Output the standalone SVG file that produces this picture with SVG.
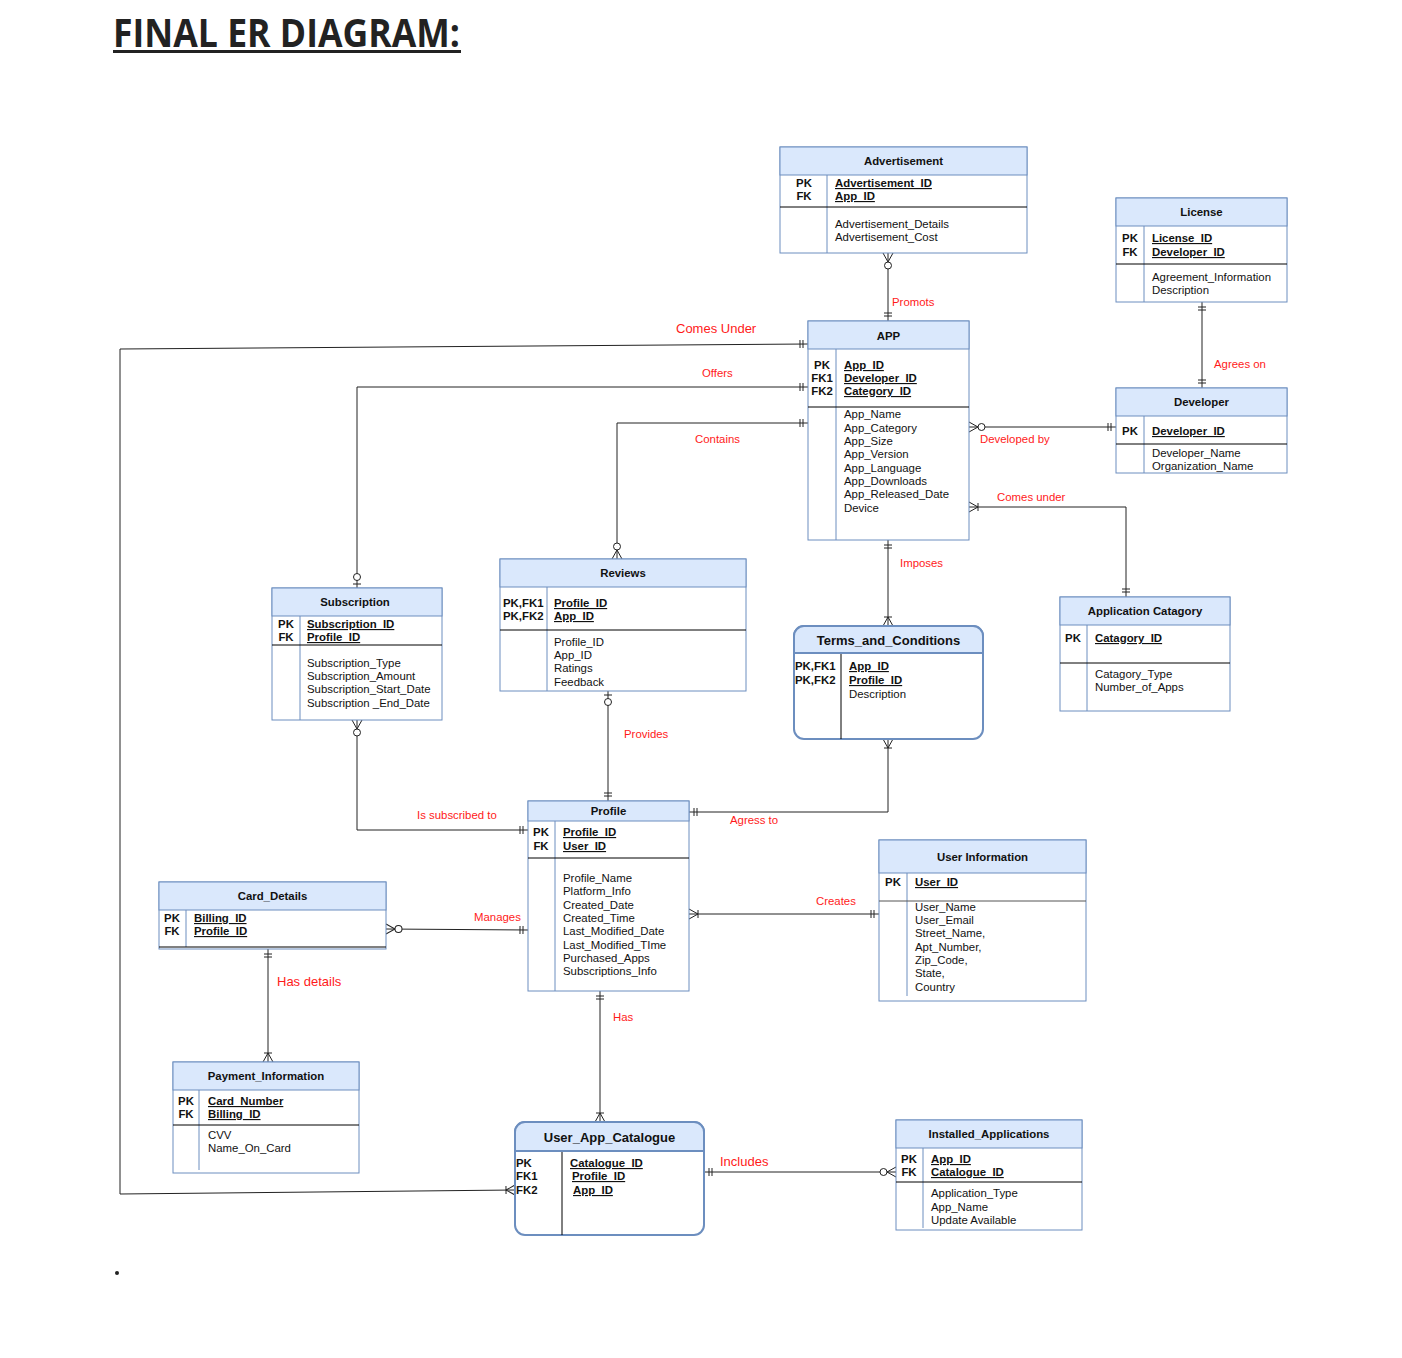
<svg xmlns="http://www.w3.org/2000/svg" width="1402" height="1358" viewBox="0 0 1402 1358">
<style>
.box{fill:#fff;stroke:#6c8ebf;stroke-width:1}
.hdr{fill:#dae8fc;stroke:#6c8ebf;stroke-width:1}
.rbox{fill:#fff;stroke:#6c8ebf;stroke-width:2}
.rhdr{fill:#dae8fc;stroke:#6c8ebf;stroke-width:2}
.dv{stroke:#6c8ebf;stroke-width:1}
.dk{stroke:#000;stroke-width:1}
.sep{stroke:#000;stroke-width:1}
text{font-family:"Liberation Sans",Arial,sans-serif;font-size:11.4px;fill:#111}
.k{font-weight:bold;text-anchor:middle}
.kl{font-weight:bold}
.u{font-weight:bold;text-decoration:underline}
.h{font-weight:bold;text-anchor:middle}
.h2{font-weight:bold;text-anchor:middle;font-size:13px}
.lbl{fill:#ff1a1a}
.lb2{fill:#ff1a1a;font-size:13px}
.conn{fill:none;stroke:#222;stroke-width:1}
.m{fill:none;stroke:#222;stroke-width:1}
.mc{fill:#fff;stroke:#222;stroke-width:1}
</style>
<defs>
<marker id="mandOne" viewBox="-20 -8 22 16" refX="0" refY="0" markerWidth="22" markerHeight="16" markerUnits="userSpaceOnUse" orient="auto-start-reverse" overflow="visible">
<path class="m" d="M-5,-4V4M-8,-4V4"/>
</marker>
<marker id="oneMany" viewBox="-20 -8 22 16" refX="0" refY="0" markerWidth="22" markerHeight="16" markerUnits="userSpaceOnUse" orient="auto-start-reverse" overflow="visible">
<path class="m" d="M0,-5L-9,0L0,5M-9,-4V4"/>
</marker>
<marker id="zeroMany" viewBox="-20 -8 22 16" refX="0" refY="0" markerWidth="22" markerHeight="16" markerUnits="userSpaceOnUse" orient="auto-start-reverse" overflow="visible">
<path class="m" d="M0,-5L-9,0L0,5"/>
<circle class="mc" cx="-12.5" cy="0" r="3.5"/>
</marker>
<marker id="zeroOne" viewBox="-20 -8 22 16" refX="0" refY="0" markerWidth="22" markerHeight="16" markerUnits="userSpaceOnUse" orient="auto-start-reverse" overflow="visible">
<path class="m" d="M-4,-4V4"/>
<circle class="mc" cx="-11" cy="0" r="3.5"/>
</marker>
</defs>
<rect width="1402" height="1358" fill="#fff"/>

<g id="title">
<text x="113" y="47" style="font-family:'Open Sans','Liberation Sans',sans-serif;font-size:39px;font-weight:bold;fill:#222" textLength="347" lengthAdjust="spacingAndGlyphs">FINAL ER DIAGRAM:</text>
<rect x="113" y="50" width="348" height="3" fill="#222"/>
</g>
<circle cx="117" cy="1273" r="2" fill="#222"/>

<g id="connectors">
<path class="conn" d="M888,253V321" marker-start="url(#zeroMany)" marker-end="url(#mandOne)"/>
<path class="conn" d="M1202,302V388" marker-start="url(#mandOne)" marker-end="url(#mandOne)"/>
<path class="conn" d="M969,427H1116" marker-start="url(#zeroMany)" marker-end="url(#mandOne)"/>
<path class="conn" d="M969,507H1126V597" marker-start="url(#oneMany)" marker-end="url(#mandOne)"/>
<path class="conn" d="M888,540V626" marker-start="url(#mandOne)" marker-end="url(#oneMany)"/>
<path class="conn" d="M808,344L120,349V1194L515,1190" marker-start="url(#mandOne)" marker-end="url(#oneMany)"/>
<path class="conn" d="M808,387H357V588" marker-start="url(#mandOne)" marker-end="url(#zeroOne)"/>
<path class="conn" d="M808,423H617V559" marker-start="url(#mandOne)" marker-end="url(#zeroMany)"/>
<path class="conn" d="M608,691V801" marker-start="url(#zeroOne)" marker-end="url(#mandOne)"/>
<path class="conn" d="M357,720V830H528" marker-start="url(#zeroMany)" marker-end="url(#mandOne)"/>
<path class="conn" d="M689,812H888V739" marker-start="url(#mandOne)" marker-end="url(#oneMany)"/>
<path class="conn" d="M689,914H879" marker-start="url(#oneMany)" marker-end="url(#mandOne)"/>
<path class="conn" d="M386,929L528,930" marker-start="url(#zeroMany)" marker-end="url(#mandOne)"/>
<path class="conn" d="M268,949V1062" marker-start="url(#mandOne)" marker-end="url(#oneMany)"/>
<path class="conn" d="M600,991V1122" marker-start="url(#mandOne)" marker-end="url(#oneMany)"/>
<path class="conn" d="M704,1172H896" marker-start="url(#mandOne)" marker-end="url(#zeroMany)"/>
<text class="lbl" x="892" y="306">Promots</text>
<text class="lbl" x="1214" y="368">Agrees on</text>
<text class="lbl" x="980" y="443">Developed by</text>
<text class="lbl" x="997" y="501">Comes under</text>
<text class="lbl" x="900" y="567">Imposes</text>
<text class="lb2" x="676" y="333">Comes Under</text>
<text class="lbl" x="702" y="377">Offers</text>
<text class="lbl" x="695" y="443">Contains</text>
<text class="lbl" x="624" y="738">Provides</text>
<text class="lbl" x="417" y="819">Is subscribed to</text>
<text class="lbl" x="730" y="824">Agress to</text>
<text class="lbl" x="816" y="905">Creates</text>
<text class="lbl" x="474" y="921">Manages</text>
<text class="lb2" x="277" y="986">Has details</text>
<text class="lbl" x="613" y="1021">Has</text>
<text class="lb2" x="720" y="1166">Includes</text>
</g>

<g id="advertisement">
<rect class="box" x="780" y="147" width="247" height="106"/>
<rect class="hdr" x="780" y="147" width="247" height="28"/>
<text class="h" x="903.5" y="165">Advertisement</text>
<line class="dv" x1="827" y1="175" x2="827" y2="253"/>
<line class="sep" x1="780" y1="207" x2="1027" y2="207"/>
<text class="k" x="804" y="187">PK</text>
<text class="k" x="804" y="200">FK</text>
<text class="u" x="835" y="187">Advertisement_ID</text>
<text class="u" x="835" y="200">App_ID</text>
<text x="835" y="228">Advertisement_Details</text>
<text x="835" y="241">Advertisement_Cost</text>
</g>

<g id="license">
<rect class="box" x="1116" y="198" width="171" height="104"/>
<rect class="hdr" x="1116" y="198" width="171" height="28"/>
<text class="h" x="1201.5" y="216">License</text>
<line class="dv" x1="1144" y1="226" x2="1144" y2="302"/>
<line class="sep" x1="1116" y1="264" x2="1287" y2="264"/>
<text class="k" x="1130" y="242">PK</text>
<text class="k" x="1130" y="256">FK</text>
<text class="u" x="1152" y="242">License_ID</text>
<text class="u" x="1152" y="256">Developer_ID</text>
<text x="1152" y="281">Agreement_Information</text>
<text x="1152" y="294">Description</text>
</g>

<g id="app">
<rect class="box" x="808" y="321" width="161" height="219"/>
<rect class="hdr" x="808" y="321" width="161" height="28"/>
<text class="h" x="888.5" y="340">APP</text>
<line class="dv" x1="836" y1="349" x2="836" y2="540"/>
<line class="sep" x1="808" y1="407" x2="969" y2="407"/>
<text class="k" x="822" y="369">PK</text>
<text class="k" x="822" y="382">FK1</text>
<text class="k" x="822" y="395">FK2</text>
<text class="u" x="844" y="369">App_ID</text>
<text class="u" x="844" y="382">Developer_ID</text>
<text class="u" x="844" y="395">Category_ID</text>
<text x="844" y="418">App_Name</text>
<text x="844" y="432">App_Category</text>
<text x="844" y="445">App_Size</text>
<text x="844" y="458">App_Version</text>
<text x="844" y="472">App_Language</text>
<text x="844" y="485">App_Downloads</text>
<text x="844" y="498">App_Released_Date</text>
<text x="844" y="512">Device</text>
</g>

<g id="developer">
<rect class="box" x="1116" y="388" width="171" height="85"/>
<rect class="hdr" x="1116" y="388" width="171" height="28"/>
<text class="h" x="1201.5" y="406">Developer</text>
<line class="dv" x1="1144" y1="416" x2="1144" y2="473"/>
<line class="sep" x1="1116" y1="444" x2="1287" y2="444"/>
<text class="k" x="1130" y="435">PK</text>
<text class="u" x="1152" y="435">Developer_ID</text>
<text x="1152" y="457">Developer_Name</text>
<text x="1152" y="470">Organization_Name</text>
</g>

<g id="subscription">
<rect class="box" x="272" y="588" width="170" height="132"/>
<rect class="hdr" x="272" y="588" width="170" height="28"/>
<text class="h" x="355" y="606">Subscription</text>
<line class="dv" x1="300" y1="616" x2="300" y2="720"/>
<line class="sep" x1="272" y1="645" x2="442" y2="645"/>
<text class="k" x="286" y="628">PK</text>
<text class="k" x="286" y="641">FK</text>
<text class="u" x="307" y="628">Subscription_ID</text>
<text class="u" x="307" y="641">Profile_ID</text>
<text x="307" y="667">Subscription_Type</text>
<text x="307" y="680">Subscription_Amount</text>
<text x="307" y="693">Subscription_Start_Date</text>
<text x="307" y="707">Subscription _End_Date</text>
</g>

<g id="reviews">
<rect class="box" x="500" y="559" width="246" height="132"/>
<rect class="hdr" x="500" y="559" width="246" height="28"/>
<text class="h" x="623" y="577">Reviews</text>
<line class="dv" x1="547" y1="587" x2="547" y2="691"/>
<line class="sep" x1="500" y1="630" x2="746" y2="630"/>
<text class="kl" x="503" y="607">PK,FK1</text>
<text class="kl" x="503" y="620">PK,FK2</text>
<text class="u" x="554" y="607">Profile_ID</text>
<text class="u" x="554" y="620">App_ID</text>
<text x="554" y="646">Profile_ID</text>
<text x="554" y="659">App_ID</text>
<text x="554" y="672">Ratings</text>
<text x="554" y="686">Feedback</text>
</g>

<g id="terms_and_conditions">
<rect class="rbox" x="794" y="626" width="189" height="113" rx="10"/>
<path class="rhdr" d="M794,653V636A10,10 0 0 1 804,626H973A10,10 0 0 1 983,636V653Z"/>
<line class="dk" x1="841" y1="654" x2="841" y2="739"/>
<text class="h2" x="888.5" y="645">Terms_and_Conditions</text>
<text class="kl" x="795" y="670">PK,FK1</text>
<text class="kl" x="795" y="684">PK,FK2</text>
<text class="u" x="849" y="670">App_ID</text>
<text class="u" x="849" y="684">Profile_ID</text>
<text x="849" y="698">Description</text>
</g>

<g id="application_catagory">
<rect class="box" x="1060" y="597" width="170" height="114"/>
<rect class="hdr" x="1060" y="597" width="170" height="28"/>
<text class="h" x="1145" y="615">Application Catagory</text>
<line class="dv" x1="1087" y1="625" x2="1087" y2="711"/>
<line class="sep" x1="1060" y1="663" x2="1230" y2="663"/>
<text class="k" x="1073" y="642">PK</text>
<text class="u" x="1095" y="642">Catagory_ID</text>
<text x="1095" y="678">Catagory_Type</text>
<text x="1095" y="691">Number_of_Apps</text>
</g>

<g id="profile">
<rect class="box" x="528" y="801" width="161" height="190"/>
<rect class="hdr" x="528" y="801" width="161" height="20"/>
<text class="h" x="608.5" y="815">Profile</text>
<line class="dv" x1="555" y1="821" x2="555" y2="991"/>
<line class="sep" x1="528" y1="858" x2="689" y2="858"/>
<text class="k" x="541" y="836">PK</text>
<text class="k" x="541" y="850">FK</text>
<text class="u" x="563" y="836">Profile_ID</text>
<text class="u" x="563" y="850">User_ID</text>
<text x="563" y="882">Profile_Name</text>
<text x="563" y="895">Platform_Info</text>
<text x="563" y="909">Created_Date</text>
<text x="563" y="922">Created_Time</text>
<text x="563" y="935">Last_Modified_Date</text>
<text x="563" y="949">Last_Modified_TIme</text>
<text x="563" y="962">Purchased_Apps</text>
<text x="563" y="975">Subscriptions_Info</text>
</g>

<g id="user_information">
<rect class="box" x="879" y="840" width="207" height="161"/>
<rect class="hdr" x="879" y="840" width="207" height="33"/>
<text class="h" x="982.5" y="861">User Information</text>
<line class="dv" x1="907" y1="873" x2="907" y2="996"/>
<line x1="879" y1="901" x2="1086" y2="901" stroke="#555" stroke-width="1"/>
<text class="k" x="893" y="886">PK</text>
<text class="u" x="915" y="886">User_ID</text>
<text x="915" y="911">User_Name</text>
<text x="915" y="924">User_Email</text>
<text x="915" y="937">Street_Name,</text>
<text x="915" y="951">Apt_Number,</text>
<text x="915" y="964">Zip_Code,</text>
<text x="915" y="977">State,</text>
<text x="915" y="991">Country</text>
</g>

<g id="card_details">
<rect class="box" x="159" y="882" width="227" height="67"/>
<rect class="hdr" x="159" y="882" width="227" height="28"/>
<text class="h" x="272.5" y="900">Card_Details</text>
<line class="dv" x1="186" y1="910" x2="186" y2="947"/>
<line class="sep" x1="159" y1="947" x2="386" y2="947"/>
<text class="k" x="172" y="922">PK</text>
<text class="k" x="172" y="935">FK</text>
<text class="u" x="194" y="922">Billing_ID</text>
<text class="u" x="194" y="935">Profile_ID</text>
</g>

<g id="payment_information">
<rect class="box" x="173" y="1062" width="186" height="111"/>
<rect class="hdr" x="173" y="1062" width="186" height="28"/>
<text class="h" x="266" y="1080">Payment_Information</text>
<line class="dv" x1="199" y1="1090" x2="199" y2="1170"/>
<line class="sep" x1="173" y1="1125" x2="359" y2="1125"/>
<text class="k" x="186" y="1105">PK</text>
<text class="k" x="186" y="1118">FK</text>
<text class="u" x="208" y="1105">Card_Number</text>
<text class="u" x="208" y="1118">Billing_ID</text>
<text x="208" y="1139">CVV</text>
<text x="208" y="1152">Name_On_Card</text>
</g>

<g id="user_app_catalogue">
<rect class="rbox" x="515" y="1122" width="189" height="113" rx="10"/>
<path class="rhdr" d="M515,1151V1132A10,10 0 0 1 525,1122H694A10,10 0 0 1 704,1132V1151Z"/>
<line class="dk" x1="562" y1="1152" x2="562" y2="1235"/>
<text class="h2" x="609.5" y="1142">User_App_Catalogue</text>
<text class="kl" x="516" y="1167">PK</text>
<text class="kl" x="516" y="1180">FK1</text>
<text class="kl" x="516" y="1194">FK2</text>
<text class="u" x="570" y="1167">Catalogue_ID</text>
<text class="u" x="572" y="1180">Profile_ID</text>
<text class="u" x="573" y="1194">App_ID</text>
</g>

<g id="installed_applications">
<rect class="box" x="896" y="1120" width="186" height="110"/>
<rect class="hdr" x="896" y="1120" width="186" height="28"/>
<text class="h" x="989" y="1138">Installed_Applications</text>
<line class="dv" x1="923" y1="1148" x2="923" y2="1228"/>
<line class="sep" x1="896" y1="1182" x2="1082" y2="1182"/>
<text class="k" x="909" y="1163">PK</text>
<text class="k" x="909" y="1176">FK</text>
<text class="u" x="931" y="1163">App_ID</text>
<text class="u" x="931" y="1176">Catalogue_ID</text>
<text x="931" y="1197">Application_Type</text>
<text x="931" y="1211">App_Name</text>
<text x="931" y="1224">Update Available</text>
</g>
</svg>
